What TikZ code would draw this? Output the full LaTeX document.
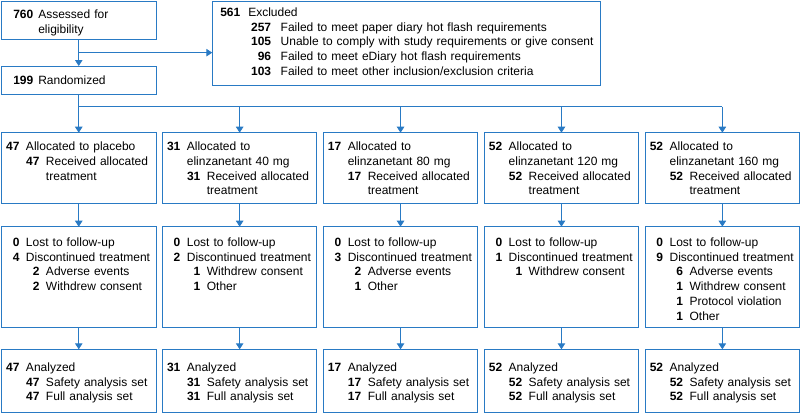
\documentclass[tikz,border=0pt]{standalone}
\usepackage{fontspec}
\setmainfont{Liberation Sans}
\usetikzlibrary{positioning,arrows.meta}
\definecolor{flowblue}{RGB}{41,122,196}
% count in bold, right-aligned, then its text
\newcommand{\itm}[4][6.5pt]{\hspace*{#2}\makebox[15pt][r]{\bfseries #3}\hspace{#1}#4}

\begin{document}
\begin{tikzpicture}[x=1pt,y=1pt]

  \tikzset{flow box/.style={rectangle, draw=flowblue, line width=0.9pt,
  		inner sep=0pt, outer sep=0pt, align=left,
  		font=\fontsize{12}{14.8}\selectfont}, }
  \tikzset{arm box/.style={flow box, text width=154.5pt}, }
  \tikzset{alloc row/.style={arm box, text height=17.8pt, text depth=52.8pt}, }
  \tikzset{follow row/.style={arm box, text height=19.5pt, text depth=81.5pt}, }
  \tikzset{result row/.style={arm box, text height=21.9pt, text depth=40.8pt}, }
  \tikzset{linea/.style={draw=flowblue, line width=0.9pt,
  		-{Triangle[width=7.5pt,length=6pt]}}, }
\useasboundingbox (0,0) rectangle (800,-413);

\node[arm box, text height=17.5pt, text depth=20.8pt, anchor=north west] (assess) at (1.5,-1)
  {\itm[5pt]{16.8pt}{760}{Assessed for}\\\hspace*{36.8pt}eligibility};
\node[flow box, text width=387.7pt, text height=15.2pt, text depth=69.5pt,
  anchor=north west] (excl) at (212.3,-1)
  {\itm[8pt]{13pt}{561}{Excluded}\\
   \itm[9.6pt]{43.8pt}{257}{Failed to meet paper diary hot flash requirements}\\
   \itm[9.6pt]{43.8pt}{105}{Unable to comply with study requirements or give consent}\\
   \itm[9.6pt]{43.8pt}{96}{Failed to meet eDiary hot flash requirements}\\
   \itm[9.6pt]{43.8pt}{103}{Failed to meet other inclusion/exclusion criteria}};
\node[arm box, text height=18.5pt, text depth=9.5pt, below=26.7pt of assess] (rand)
  {\itm[5pt]{16.8pt}{199}{Randomized}};

\node[alloc row, anchor=north west] (a1) at (1.5,-132.7)
  {\itm{3pt}{47}{Allocated to placebo}\\\itm{23pt}{47}{Received allocated}\\
   \hspace*{44.5pt}treatment};
\node[alloc row, right=6.4pt of a1] (a2)
  {\itm{3pt}{31}{Allocated to}\\\hspace*{24.5pt}elinzanetant 40 mg\\
   \itm{23pt}{31}{Received allocated}\\\hspace*{44.5pt}treatment};
\node[alloc row, right=6.4pt of a2] (a3)
  {\itm{3pt}{17}{Allocated to}\\\hspace*{24.5pt}elinzanetant 80 mg\\
   \itm{23pt}{17}{Received allocated}\\\hspace*{44.5pt}treatment};
\node[alloc row, right=6.4pt of a3] (a4)
  {\itm{3pt}{52}{Allocated to}\\\hspace*{24.5pt}elinzanetant 120 mg\\
   \itm{23pt}{52}{Received allocated}\\\hspace*{44.5pt}treatment};
\node[alloc row, right=6.4pt of a4] (a5)
  {\itm{3pt}{52}{Allocated to}\\\hspace*{24.5pt}elinzanetant 160 mg\\
   \itm{23pt}{52}{Received allocated}\\\hspace*{44.5pt}treatment};

\node[follow row, below=23.4pt of a1] (f1)
  {\itm{3pt}{0}{Lost to follow-up}\\\itm{3pt}{4}{Discontinued treatment}\\
   \itm{23pt}{2}{Adverse events}\\\itm{23pt}{2}{Withdrew consent}};
\node[follow row, below=23.4pt of a2] (f2)
  {\itm{3pt}{0}{Lost to follow-up}\\\itm{3pt}{2}{Discontinued treatment}\\
   \itm{23pt}{1}{Withdrew consent}\\\itm{23pt}{1}{Other}};
\node[follow row, below=23.4pt of a3] (f3)
  {\itm{3pt}{0}{Lost to follow-up}\\\itm{3pt}{3}{Discontinued treatment}\\
   \itm{23pt}{2}{Adverse events}\\\itm{23pt}{1}{Other}};
\node[follow row, below=23.4pt of a4] (f4)
  {\itm{3pt}{0}{Lost to follow-up}\\\itm{3pt}{1}{Discontinued treatment}\\
   \itm{23pt}{1}{Withdrew consent}};
\node[follow row, below=23.4pt of a5] (f5)
  {\itm{3pt}{0}{Lost to follow-up}\\\itm{3pt}{9}{Discontinued treatment}\\
   \itm{23pt}{6}{Adverse events}\\\itm{23pt}{1}{Withdrew consent}\\
   \itm{23pt}{1}{Protocol violation}\\\itm{23pt}{1}{Other}};

\node[result row, below=21.6pt of f1] (r1)
  {\itm{3pt}{47}{Analyzed}\\\itm{23pt}{47}{Safety analysis set}\\\itm{23pt}{47}{Full analysis set}};
\node[result row, below=21.6pt of f2] (r2)
  {\itm{3pt}{31}{Analyzed}\\\itm{23pt}{31}{Safety analysis set}\\\itm{23pt}{31}{Full analysis set}};
\node[result row, below=21.6pt of f3] (r3)
  {\itm{3pt}{17}{Analyzed}\\\itm{23pt}{17}{Safety analysis set}\\\itm{23pt}{17}{Full analysis set}};
\node[result row, below=21.6pt of f4] (r4)
  {\itm{3pt}{52}{Analyzed}\\\itm{23pt}{52}{Safety analysis set}\\\itm{23pt}{52}{Full analysis set}};
\node[result row, below=21.6pt of f5] (r5)
  {\itm{3pt}{52}{Analyzed}\\\itm{23pt}{52}{Safety analysis set}\\\itm{23pt}{52}{Full analysis set}};

%% screening and randomisation
\path (assess.south) -- (rand.north) coordinate[pos=.5] (split);
\draw[linea] (assess) -- (rand);
\draw[linea] (split) -- (split -| excl.west);
\draw[flowblue, line width=0.9pt] (rand.south) -- ++(0,-12.7) coordinate (bus);
\draw[flowblue, line width=0.9pt] (bus -| a1.north) -- (bus -| a5.north);
\foreach \x in {1,...,5}
  \draw[linea] (bus -| a\x.north) -- (a\x.north);
%% arms
\foreach \x in {1,...,5} {
  \draw[linea] (a\x) -- (f\x);
  \draw[linea] (f\x) -- (r\x);
}
%%
\end{tikzpicture}
\end{document}
